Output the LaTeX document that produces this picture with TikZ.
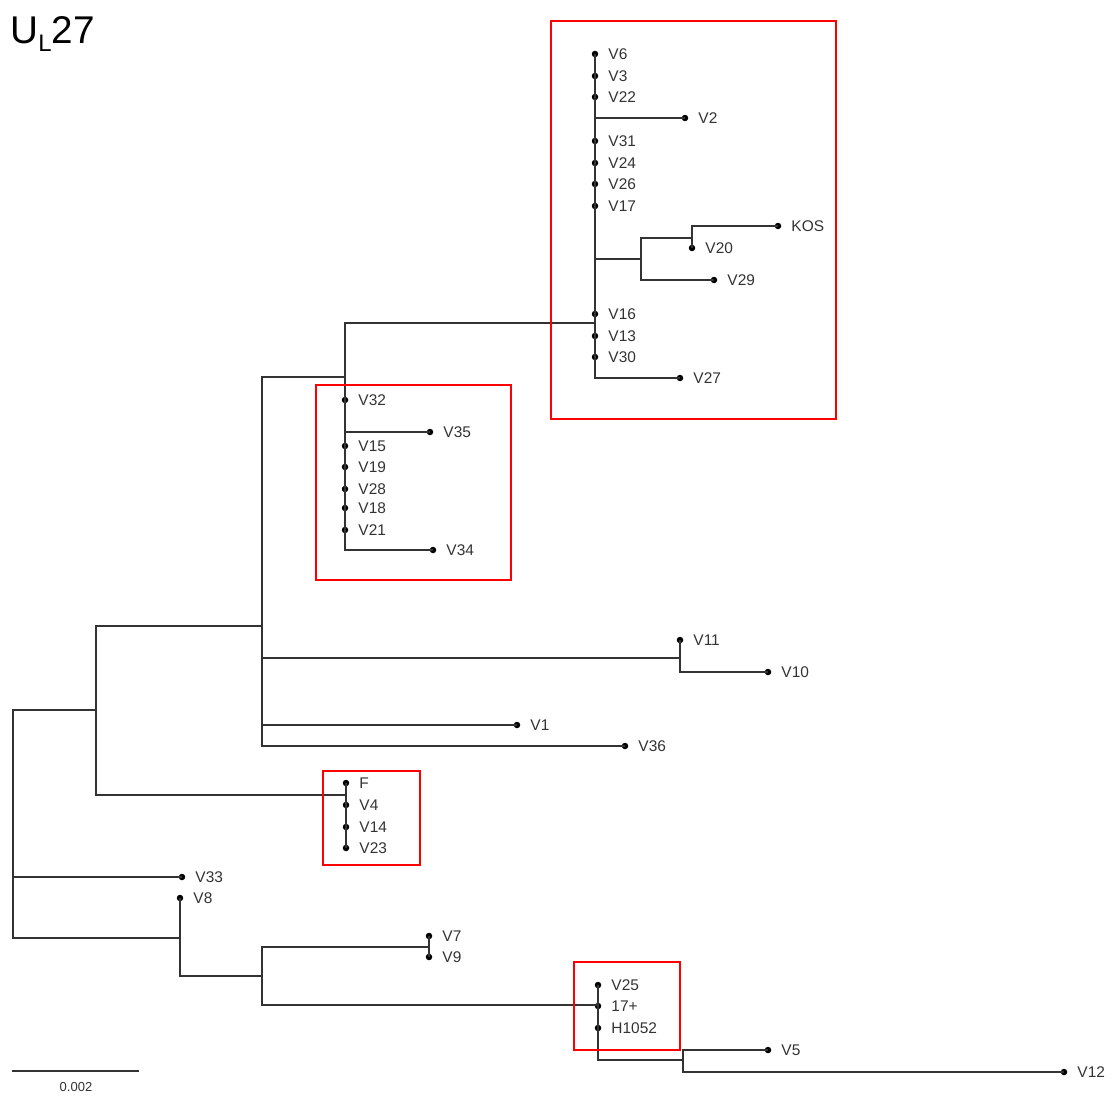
\documentclass[tikz,border=0pt]{standalone}
\usepackage{fontspec}
\setmainfont{Liberation Sans}
\definecolor{Branch}{HTML}{333333}
\definecolor{TipInk}{HTML}{333333}
\definecolor{BoxRed}{HTML}{FF0000}

\begin{document}
\begin{tikzpicture}[x=0.02cm,y=-0.02cm,
    tip/.style={circle,fill=black,inner sep=0pt,minimum size=0.13cm,label={[tiplabel]right:#1}},
    tiplabel/.style={font=\fontsize{8.8}{10}\selectfont,text=TipInk,inner sep=0pt,label distance=0.19cm},
    branch/.style={draw=Branch,line width=0.8pt},
    cladebox/.style={draw=BoxRed,line width=1.5pt}]
      \useasboundingbox (0,0) rectangle (1114,1095);
      % title
      \node[anchor=base west,inner sep=0pt,text=black,font=\fontsize{22}{24}\selectfont] (title) at (10,44) {U\raisebox{-4.3pt}{\fontsize{13.6}{15}\selectfont L}27};

      % internal nodes
      \coordinate (root) at (13,840);
      \coordinate (nA) at (96,710);
      \coordinate (nB) at (262,626);
      \coordinate (nC) at (345,377);
      \coordinate (nE) at (595,323);
      \coordinate (nG) at (641,259);
      \coordinate (nH) at (692,238);
      \coordinate (nD) at (680,658);
      \coordinate (nF) at (346,795);
      \coordinate (nI) at (180,938);
      \coordinate (nJ) at (262,976);
      \coordinate (nK) at (429,947);
      \coordinate (nL) at (598,1005);
      \coordinate (nM) at (683,1060);

      % tips, upper clade
      \node[tip=V6] (V6) at (595,54) {};
      \node[tip=V3] (V3) at (595,76) {};
      \node[tip=V22] (V22) at (595,97) {};
      \node[tip=V2] (V2) at (685,118) {};
      \node[tip=V31] (V31) at (595,141) {};
      \node[tip=V24] (V24) at (595,163) {};
      \node[tip=V26] (V26) at (595,184) {};
      \node[tip=V17] (V17) at (595,206) {};
      \node[tip=KOS] (KOS) at (778,226) {};
      \node[tip=V20] (V20) at (692,248) {};
      \node[tip=V29] (V29) at (714,280) {};
      \node[tip=V16] (V16) at (595,314) {};
      \node[tip=V13] (V13) at (595,336) {};
      \node[tip=V30] (V30) at (595,357) {};
      \node[tip=V27] (V27) at (680,378) {};
      % tips, V32 clade
      \node[tip=V32] (V32) at (345,400) {};
      \node[tip=V35] (V35) at (430,432) {};
      \node[tip=V15] (V15) at (345,446) {};
      \node[tip=V19] (V19) at (345,467) {};
      \node[tip=V28] (V28) at (345,489) {};
      \node[tip=V18] (V18) at (345,508) {};
      \node[tip=V21] (V21) at (345,530) {};
      \node[tip=V34] (V34) at (433,550) {};
      % tips, middle
      \node[tip=V11] (V11) at (680,640) {};
      \node[tip=V10] (V10) at (768,672) {};
      \node[tip=V1] (V1) at (517,725) {};
      \node[tip=V36] (V36) at (625,746) {};
      \node[tip=F] (F) at (346,783) {};
      \node[tip=V4] (V4) at (346,805) {};
      \node[tip=V14] (V14) at (346,827) {};
      \node[tip=V23] (V23) at (346,848) {};
      % tips, lower part
      \node[tip=V33] (V33) at (182,877) {};
      \node[tip=V8] (V8) at (180,898) {};
      \node[tip=V7] (V7) at (429,936) {};
      \node[tip=V9] (V9) at (429,957) {};
      \node[tip=V25] (V25) at (598,985) {};
      \node[tip=17+] (s17) at (598,1006) {};
      \node[tip=H1052] (H1052) at (598,1028) {};
      \node[tip=V5] (V5) at (768,1050) {};
      \node[tip=V12] (V12) at (1064,1072) {};

      % branches
      \draw[branch] (root) |- (nA.center) (root) |- (V33.center) (root) |- (nI.center);
      \draw[branch] (nA) |- (nB.center) (nA) |- (nF.center);
      \draw[branch] (nB) |- (nC.center) (nB) |- (nD.center) (nB) |- (V1.center) (nB) |- (V36.center);
      \draw[branch] (nC) |- (nE.center) (nC) |- (V32.center) (nC) |- (V35.center) (nC) |- (V15.center)
                    (nC) |- (V19.center) (nC) |- (V28.center) (nC) |- (V18.center) (nC) |- (V21.center) (nC) |- (V34.center);
      \draw[branch] (nE) |- (V6.center) (nE) |- (V3.center) (nE) |- (V22.center) (nE) |- (V2.center)
                    (nE) |- (V31.center) (nE) |- (V24.center) (nE) |- (V26.center) (nE) |- (V17.center)
                    (nE) |- (nG.center) (nE) |- (V16.center) (nE) |- (V13.center) (nE) |- (V30.center) (nE) |- (V27.center);
      \draw[branch] (nG) |- (nH.center) (nG) |- (V29.center);
      \draw[branch] (nH) |- (KOS.center) (nH) |- (V20.center);
      \draw[branch] (nD) |- (V11.center) (nD) |- (V10.center);
      \draw[branch] (nF) |- (F.center) (nF) |- (V4.center) (nF) |- (V14.center) (nF) |- (V23.center);
      \draw[branch] (nI) |- (V8.center) (nI) |- (nJ.center);
      \draw[branch] (nJ) |- (nK.center) (nJ) |- (nL.center);
      \draw[branch] (nK) |- (V7.center) (nK) |- (V9.center);
      \draw[branch] (nL) |- (V25.center) (nL) |- (s17.center) (nL) |- (H1052.center) (nL) |- (nM.center);
      \draw[branch] (nM) |- (V5.center) (nM) |- (V12.center);

      % clade boxes
      \draw[cladebox] (551,21) rectangle (836,419);
      \draw[cladebox] (316,385) rectangle (511,580);
      \draw[cladebox] (323,771) rectangle (420,865);
      \draw[cladebox] (574,962) rectangle (680,1050);

      % scale bar
      \coordinate (barL) at (12,1071);
      \coordinate (barR) at (139,1071);
      \draw[branch] (barL) -- (barR);
      \node[font=\fontsize{7.4}{9}\selectfont,text=TipInk,inner sep=0pt] (barlab) at (76,1087) {0.002};
    \end{tikzpicture}
\end{document}
